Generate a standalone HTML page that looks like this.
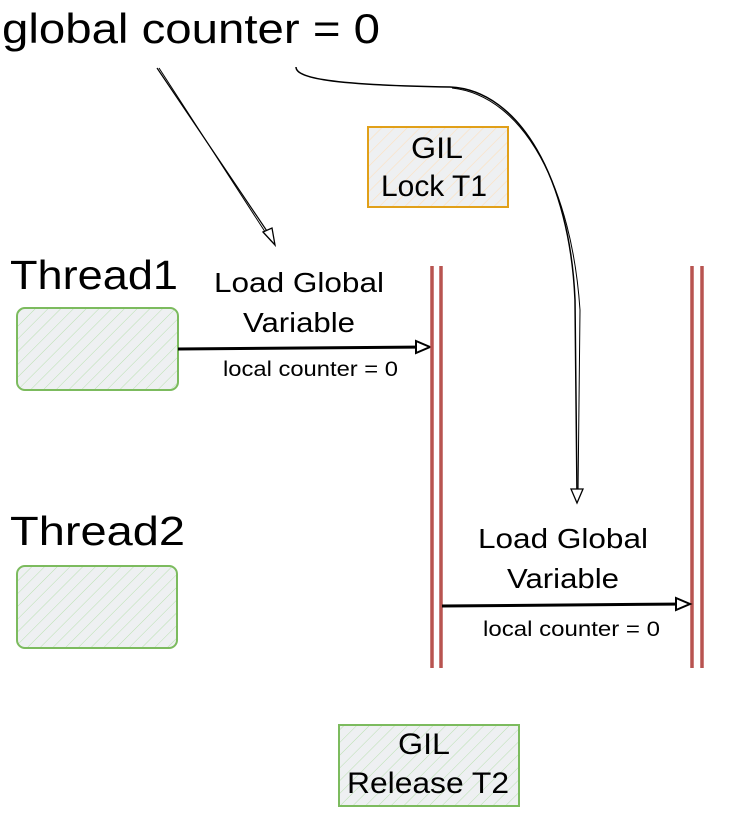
<!DOCTYPE html>
<html><head><meta charset="utf-8"><style>
html,body{margin:0;padding:0;background:#fff;width:736px;height:830px;overflow:hidden}
svg{display:block}
text{font-family:"Liberation Sans",Arial,sans-serif;fill:#000}
</style></head><body>
<svg width="736" height="830" viewBox="0 0 736 830" xmlns="http://www.w3.org/2000/svg">
<defs>
<pattern id="hg" width="9" height="9" patternUnits="userSpaceOnUse" patternTransform="rotate(45)">
<rect width="9" height="9" fill="#eef0f2"/><line x1="0" y1="0" x2="0" y2="9" stroke="#b9e0b0" stroke-width="1"/></pattern>
<pattern id="ho" width="9" height="9" patternUnits="userSpaceOnUse" patternTransform="rotate(45)">
<rect width="9" height="9" fill="#eef0f2"/><line x1="0" y1="0" x2="0" y2="9" stroke="#fde0bd" stroke-width="1.2"/></pattern>
</defs>

<text x="2" y="43" font-size="42" textLength="378" lengthAdjust="spacingAndGlyphs">global counter = 0</text>

<!-- arrow 1 -->
<path d="M157 68 L273 240" stroke="#000" stroke-width="1.2" fill="none"/>
<path d="M159 68 L271 241" stroke="#000" stroke-width="1" fill="none"/>
<path d="M263 232 L275 245 L272 228 Z" fill="#fff" stroke="#000" stroke-width="1.3"/>

<!-- arrow 2 curve -->
<path d="M296 67 C296 78 330 85 450 87 C520 90 570 180 575 300 L577 495" stroke="#000" stroke-width="1.5" fill="none"/>
<path d="M452 88 C525 96 572 190 580 310 L578 495" stroke="#000" stroke-width="1" fill="none"/>
<path d="M571 489 L577 503 L583 489 Z" fill="#fff" stroke="#000" stroke-width="1.3"/>

<!-- GIL Lock T1 -->
<rect x="368" y="127" width="140" height="80" fill="url(#ho)" stroke="#e1a019" stroke-width="2"/>
<text x="437" y="158" font-size="30" text-anchor="middle" textLength="52" lengthAdjust="spacingAndGlyphs">GIL</text>
<text x="434" y="196" font-size="30" text-anchor="middle" textLength="106" lengthAdjust="spacingAndGlyphs">Lock T1</text>

<!-- Thread1 -->
<text x="10" y="289" font-size="41" textLength="168" lengthAdjust="spacingAndGlyphs">Thread1</text>
<rect x="17" y="308" width="161" height="82" rx="8" fill="url(#hg)" stroke="#7cbb5e" stroke-width="2"/>
<text x="214" y="292" font-size="28" textLength="170" lengthAdjust="spacingAndGlyphs">Load Global</text>
<text x="243" y="332" font-size="28" textLength="112" lengthAdjust="spacingAndGlyphs">Variable</text>
<path d="M178 349 L428 347" stroke="#000" stroke-width="3" fill="none"/>
<path d="M416 341 L430 347 L416 353 Z" fill="#fff" stroke="#000" stroke-width="2"/>
<text x="223" y="376" font-size="21" textLength="175" lengthAdjust="spacingAndGlyphs">local counter = 0</text>

<!-- Thread2 -->
<text x="10" y="545" font-size="41" textLength="175" lengthAdjust="spacingAndGlyphs">Thread2</text>
<rect x="17" y="566" width="160" height="82" rx="8" fill="url(#hg)" stroke="#7cbb5e" stroke-width="2"/>

<!-- red lifelines -->
<g stroke="#b85450" stroke-width="3.5">
<line x1="432" y1="266" x2="432" y2="668"/>
<line x1="441" y1="266" x2="441" y2="668"/>
<line x1="692" y1="266" x2="692" y2="668"/>
<line x1="702" y1="266" x2="702" y2="668"/>
</g>

<text x="478" y="548" font-size="28" textLength="170" lengthAdjust="spacingAndGlyphs">Load Global</text>
<text x="507" y="588" font-size="28" textLength="112" lengthAdjust="spacingAndGlyphs">Variable</text>
<path d="M442 606 L688 604" stroke="#000" stroke-width="3" fill="none"/>
<path d="M676 598 L690 604 L676 610 Z" fill="#fff" stroke="#000" stroke-width="2"/>
<text x="483" y="636" font-size="21" textLength="177" lengthAdjust="spacingAndGlyphs">local counter = 0</text>

<!-- GIL Release T2 -->
<rect x="339" y="725" width="180" height="81" fill="url(#hg)" stroke="#7cbb5e" stroke-width="2"/>
<text x="424" y="754" font-size="30" text-anchor="middle" textLength="52" lengthAdjust="spacingAndGlyphs">GIL</text>
<text x="347" y="793" font-size="30" textLength="162" lengthAdjust="spacingAndGlyphs">Release T2</text>
</svg>
</body></html>
